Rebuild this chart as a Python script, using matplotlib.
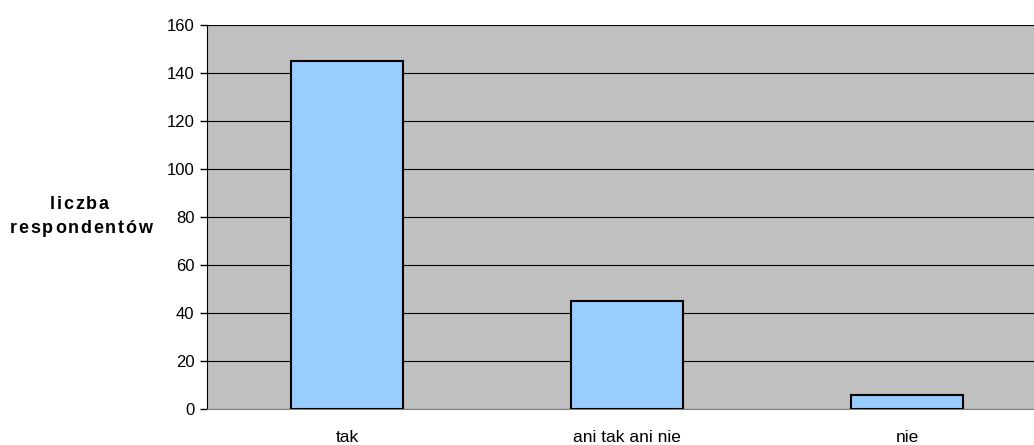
import matplotlib.pyplot as plt
import numpy as np
from matplotlib.font_manager import findfont, FontProperties
from matplotlib.ft2font import FT2Font

plt.rcParams['font.family'] = ['Liberation Sans', 'DejaVu Sans']

categories = ["tak", "ani tak ani nie", "nie"]
values = [145, 45, 6]
yticks = [0, 20, 40, 60, 80, 100, 120, 140, 160]
ylabel_lines = ["liczba", "respondentów"]

W, H = 1034, 445
fig = plt.figure(figsize=(W / 100, H / 100), dpi=100)
# plot area: left 207px, top 25px, bottom 409px, runs past the right edge
left, right, top, bottom = 207, 1047, 25, 409
ax = fig.add_axes([left / W, 1 - bottom / H, (right - left) / W, (bottom - top) / H])

ax.set_facecolor('#C0C0C0')
x = np.arange(len(categories))
ax.bar(x, values, width=0.4, color='#99CCFF', edgecolor='black', linewidth=1.5, zorder=3)

ax.set_xlim(-0.5, 2.5)
ax.set_ylim(0, 160)
ax.set_yticks(yticks)
ax.yaxis.grid(True, color='black', linewidth=0.8, zorder=1)
ax.set_axisbelow(True)

ax.set_xticks(x)
ax.set_xticklabels(categories, fontsize=12.5)
ax.tick_params(axis='x', length=0, pad=15)
ax.tick_params(axis='y', labelsize=12, length=5, width=1, pad=4)

for s in ['top', 'right']:
    ax.spines[s].set_visible(False)
ax.spines['left'].set_color('black')
ax.spines['bottom'].set_color('#808080')


# y label with a bit of extra letter spacing (Excel style)
FS = 13
font = FT2Font(findfont(FontProperties(family='Liberation Sans', weight='bold')))
font.set_size(FS, 100)

def adv(ch):
    g = font.load_char(ord(ch))
    return g.linearHoriAdvance / 65536

def spaced(s, xc, ybase, gap=1.8):
    widths = [adv(ch) for ch in s]
    total = sum(widths) + gap * (len(s) - 1)
    xp = xc - total / 2
    for ch, w in zip(s, widths):
        # centre each glyph in its advance cell
        fig.text((xp + w / 2) / W, 1 - ybase / H, ch, fontsize=FS, fontweight='bold',
                 ha='center', va='baseline')
        xp += w + gap

spaced(ylabel_lines[0], 79, 209)
spaced(ylabel_lines[1], 81, 233)

fig.savefig("out.png", dpi=100)
